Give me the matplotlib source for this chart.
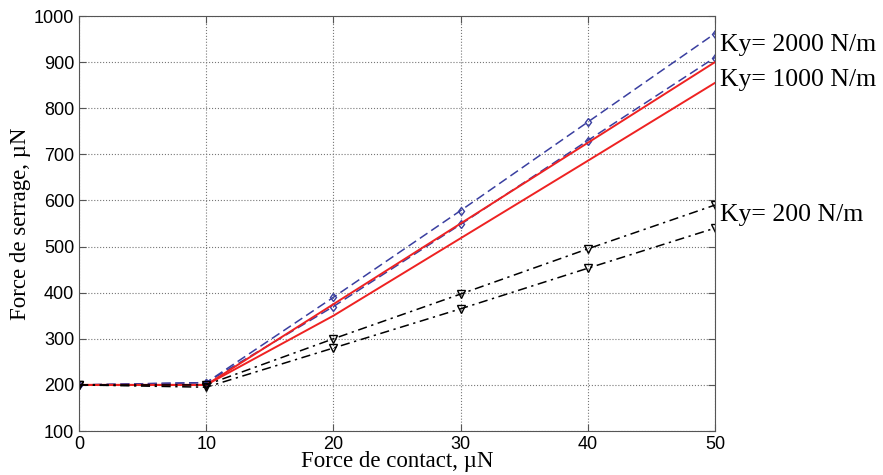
import numpy as np
import matplotlib.pyplot as plt

x = [0, 10, 20, 30, 40, 50]

# Ky = 2000 N/m (bleu, tirets, losanges)
ky2000_a = [200, 205, 390, 578, 770, 962]
ky2000_b = [200, 205, 370, 548, 730, 910]
# Ky = 1000 N/m (rouge, trait plein)
ky1000_a = [200, 200, 375, 550, 725, 900]
ky1000_b = [200, 200, 350, 518, 686, 855]
# Ky = 200 N/m (noir, tiret-point, triangles)
ky200_a = [200, 200, 300, 397, 495, 590]
ky200_b = [200, 195, 280, 365, 453, 540]

labels = ['Ky= 2000 N/m', 'Ky= 1000 N/m', 'Ky= 200 N/m']
label_y = [937, 861, 568]

fig = plt.figure(figsize=(8.83, 4.75), dpi=100)
ax = fig.add_axes([0.0895, 0.0926, 0.7202, 0.8737])

blue = '#3a3fa0'
for ys in (ky2000_a, ky2000_b):
    ax.plot(x, ys, color=blue, lw=1.1, dashes=(6, 3), marker='d', ms=4.5, mfc='none')
ax.plot(x, ky1000_a, '-', color='#ee2222', lw=1.4)
ax.plot(x, ky1000_b, '-', color='#ee2222', lw=1.4)
for ys in (ky200_a, ky200_b):
    ax.plot(x, ys, color='black', lw=1.1, dashes=(6, 3, 1.5, 3), marker='v', ms=5.5, mfc='none')

ax.set_xlim(0, 50)
ax.set_ylim(100, 1000)
ax.set_xticks(np.arange(0, 51, 10))
ax.set_yticks(np.arange(100, 1001, 100))
ax.grid(True, linestyle=':', color='#777777', lw=0.8)
ax.tick_params(direction='in', top=True, right=True, labelsize=13, length=5, color='#555555')
for s in ax.spines.values():
    s.set_color('#555555')

for t in ax.get_xticklabels() + ax.get_yticklabels():
    t.set_family('Liberation Sans')

ax.set_xlabel('Force de contact, µN', family='Liberation Serif', fontsize=16.5, labelpad=-1)
ax.set_ylabel('Force de serrage, µN', family='Liberation Serif', fontsize=16.5, labelpad=2)

for lab, yv in zip(labels, label_y):
    ax.text(50.4, yv, lab, family='Liberation Serif', fontsize=18.5, va='center', ha='left', clip_on=False)

fig.savefig('out.png', dpi=100)
